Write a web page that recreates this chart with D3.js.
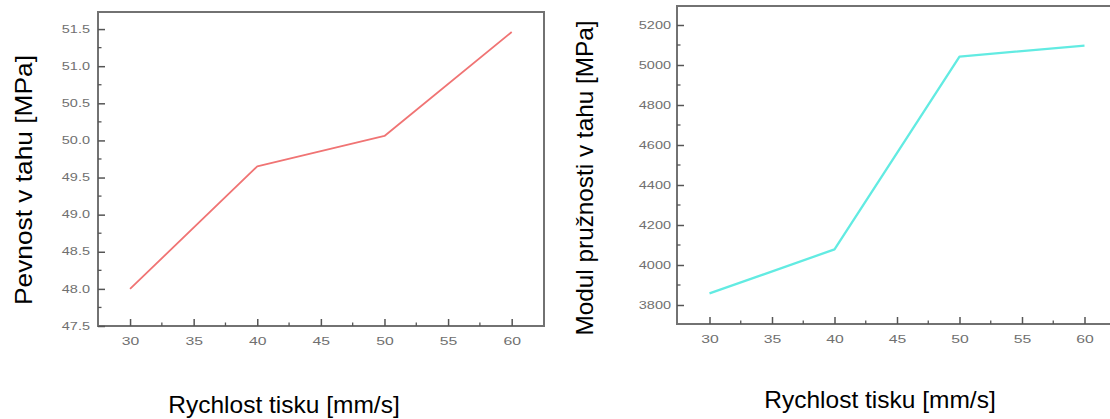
<!DOCTYPE html>
<html>
<head>
<meta charset="utf-8">
<script src="https://cdn.jsdelivr.net/npm/d3@7"></script>
<style>
  body { margin: 0; background: #fff; }
  svg { display: block; font-family: "Liberation Sans", Arial, sans-serif; }
  .tick text { fill: #707070; font-size: 10.5px; }
</style>
</head>
<body>
<svg id="chart" width="1110" height="419"></svg>
<script>
// speed values shared by both panels
var speeds = [30, 40, 50, 60];
var strength = [48.0, 49.65, 50.06, 51.46];      // Pevnost v tahu
var modulus = [3858, 4078, 5042, 5097];          // Modul pruznosti
var xTicks = [30, 35, 40, 45, 50, 55, 60];
var strengthTicks = [47.5, 48.0, 48.5, 49.0, 49.5, 50.0, 50.5, 51.0, 51.5];
var modulusTicks = [3800, 4000, 4200, 4400, 4600, 4800, 5000, 5200];

var svg = d3.select("#chart");

function panel(opt) {
    var g = svg.append("g");
    var x = d3.scaleLinear().domain(opt.xDomain).range([opt.left, opt.right]);
    var y = d3.scaleLinear().domain(opt.yDomain).range([opt.bottom, opt.top]);

    // frame
    g.append("rect")
        .attr("x", opt.left).attr("y", opt.top)
        .attr("width", opt.right - opt.left).attr("height", opt.bottom - opt.top)
        .attr("fill", "none").attr("stroke", "#727272").attr("stroke-width", 2);

    // minor ticks, inside the frame
    var xMinor = xTicks.slice(0, -1).map(function(v, i) { return (v + xTicks[i + 1]) / 2; });
    g.selectAll(".xm").data(xMinor).enter().append("line")
        .attr("x1", x).attr("x2", x)
        .attr("y1", opt.bottom).attr("y2", opt.bottom - 3.5)
        .attr("stroke", "#555").attr("stroke-width", 1.3);
    var yMinor = opt.yTicks.slice(0, -1).map(function(v, i) { return (v + opt.yTicks[i + 1]) / 2; });
    var topMinor = opt.yTicks[opt.yTicks.length - 1] + opt.yStep / 2;
    if (topMinor < opt.yDomain[1]) yMinor.push(topMinor);
    var lowMinor = opt.yTicks[0] - opt.yStep / 2;
    if (lowMinor > opt.yDomain[0]) yMinor.push(lowMinor);
    g.selectAll(".ym").data(yMinor).enter().append("line")
        .attr("x1", opt.left).attr("x2", opt.left + 3.5)
        .attr("y1", y).attr("y2", y)
        .attr("stroke", "#555").attr("stroke-width", 1.3);

    var xAxis = g.append("g")
        .attr("transform", "translate(0," + opt.bottom + ")")
        .call(d3.axisBottom(x).tickValues(xTicks).tickSizeInner(-7).tickSizeOuter(0).tickPadding(12));
    xAxis.select(".domain").remove();
    xAxis.selectAll(".tick line").attr("stroke", "#555").attr("stroke-width", 1.5);
    xAxis.selectAll(".tick text").attr("transform", "scale(1.5,1)");

    var yAxis = g.append("g")
        .attr("transform", "translate(" + opt.left + ",0)")
        .call(d3.axisLeft(y).tickValues(opt.yTicks).tickFormat(opt.fmt).tickSizeInner(-7).tickSizeOuter(0));
    yAxis.select(".domain").remove();
    yAxis.selectAll(".tick line").attr("stroke", "#555").attr("stroke-width", 1.5);
    yAxis.selectAll(".tick text")
        .attr("x", 0)
        .style("font-size", "10px")
        .attr("transform", "translate(" + (-opt.labelPad) + ",0) scale(1.45,1)");

    var line = d3.line()
        .x(function(d, i) { return x(speeds[i]); })
        .y(function(d) { return y(d); });
    g.append("path")
        .datum(opt.values)
        .attr("d", line)
        .attr("fill", "none")
        .attr("stroke", opt.color)
        .attr("stroke-width", opt.lineWidth)
        .attr("stroke-linejoin", "round");

    g.append("text")
        .attr("x", opt.xTitleX).attr("y", opt.xTitleY)
        .attr("text-anchor", "middle")
        .attr("font-size", 24.5).attr("fill", "#000")
        .text("Rychlost tisku [mm/s]");

    g.append("text")
        .attr("transform", "translate(" + opt.yTitleX + "," + opt.yTitleY + ") rotate(-90)")
        .attr("text-anchor", "middle")
        .attr("font-size", 24.5).attr("fill", "#000")
        .attr("textLength", opt.yTitleLen)
        .attr("lengthAdjust", "spacingAndGlyphs")
        .text(opt.yTitle);
}

panel({
    left: 98, right: 544, top: 12, bottom: 326,
    xDomain: [27.48, 62.54], yDomain: [47.5, 51.73],
    yTicks: strengthTicks, yStep: 0.5, labelPad: 8,
    fmt: d3.format(".1f"),
    values: strength, color: "#f07474", lineWidth: 1.8,
    xTitleX: 284, xTitleY: 413,
    yTitleX: 32, yTitleY: 180, yTitleLen: 250,
    yTitle: "Pevnost v tahu [MPa]"
});

panel({
    left: 677, right: 1117, top: 6, bottom: 324,
    xDomain: [27.4, 62.6], yDomain: [3705, 5295],
    yTicks: modulusTicks, yStep: 200, labelPad: 6,
    fmt: d3.format("d"),
    values: modulus, color: "#62ebe2", lineWidth: 2.3,
    xTitleX: 880, xTitleY: 408,
    yTitleX: 593, yTitleY: 178, yTitleLen: 315,
    yTitle: "Modul pružnosti v tahu [MPa]"
});
</script>
</body>
</html>
